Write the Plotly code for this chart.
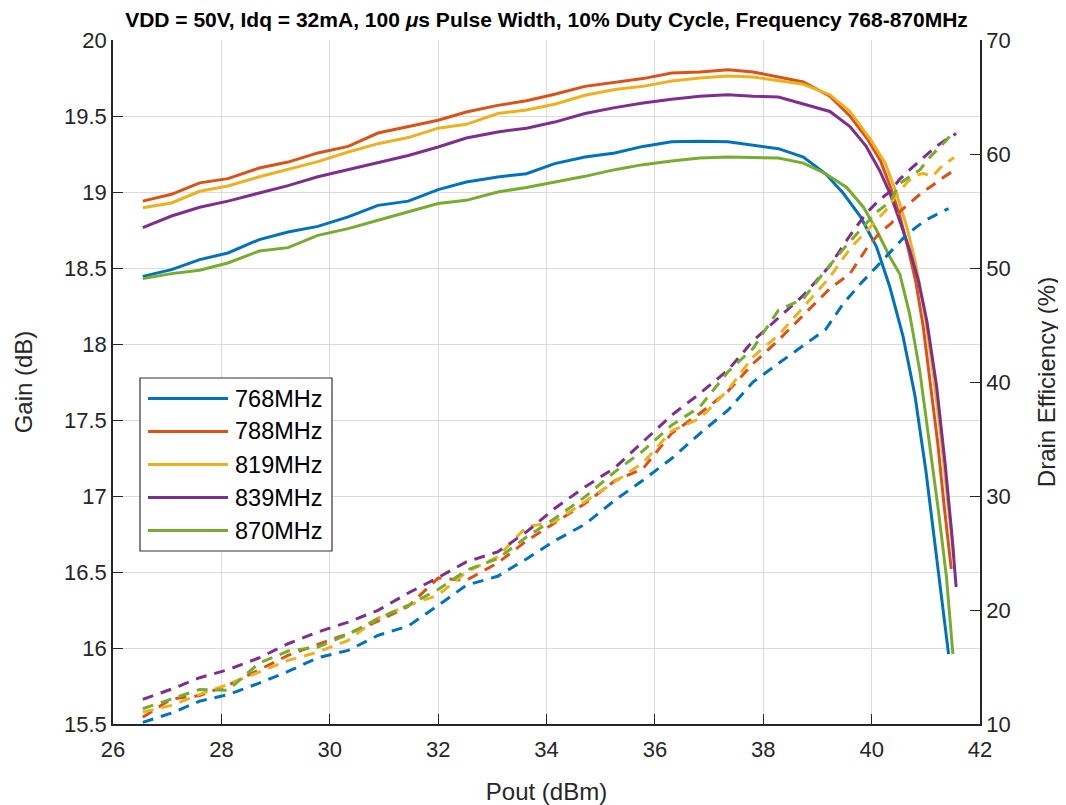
import plotly.graph_objects as go

# ---------------- data ----------------
series_names = ["768MHz", "788MHz", "819MHz", "839MHz", "870MHz"]
series_colors = ["#0072BD", "#D95319", "#EDB120", "#7E2F8E", "#77AC30"]

pout_common = [26.55, 27.08, 27.60, 28.12, 28.70, 29.23, 29.78, 30.34, 30.89, 31.45,
               32.00, 32.52, 33.10, 33.63, 34.15, 34.71, 35.26, 35.78, 36.31, 36.83,
               37.35, 37.81, 38.28, 38.74]

pout_768 = pout_common + [39.15, 39.48, 39.79, 40.09, 40.34, 40.58, 40.80, 41.00, 41.16, 41.29, 41.42]
gain_768 = [18.445, 18.489, 18.555, 18.599, 18.687, 18.737, 18.774, 18.836, 18.912, 18.94,
            19.016, 19.066, 19.099, 19.12, 19.187, 19.23, 19.257, 19.30, 19.33, 19.334,
            19.33, 19.31, 19.285, 19.23,
            19.12, 18.99, 18.84, 18.64, 18.37, 18.05, 17.66, 17.17, 16.72, 16.36, 15.96]
eff_768 = [10.14, 10.96, 12.01, 12.57, 13.59, 14.61, 15.81, 16.46, 17.77, 18.59,
           20.4, 22.17, 22.96, 24.48, 26.06, 27.52, 29.63, 31.38, 33.29, 35.48,
           37.53, 40.0, 41.63, 43.23,
           44.6, 46.9, 48.6, 50.1, 51.4, 52.6, 53.5, 54.2, 54.6, 54.95, 55.2]

pout_788 = pout_common + [39.23, 39.60, 39.92, 40.17, 40.36, 40.53, 40.68, 40.82, 40.95, 41.08, 41.22, 41.34, 41.47]
gain_788 = [18.94, 18.985, 19.06, 19.088, 19.158, 19.197, 19.257, 19.30, 19.388, 19.428,
            19.472, 19.526, 19.57, 19.60, 19.643, 19.695, 19.72, 19.746, 19.783, 19.79,
            19.805, 19.79, 19.757, 19.724,
            19.63, 19.50, 19.35, 19.20, 19.02, 18.83, 18.62, 18.40, 18.12, 17.76, 17.35, 16.93, 16.52]
eff_788 = [10.6, 12.2, 12.5, 13.4, 14.76, 16.02, 16.98, 17.92, 19.03, 20.32,
           22.8, 22.6, 24.13, 26.06, 27.64, 29.34, 31.33, 32.4, 35.5, 37.24,
           39.2, 41.6, 43.67, 45.86,
           48.2, 49.5, 51.8, 53.2, 53.9, 55.0, 55.6, 56.1, 56.7, 57.1, 57.6, 58.0, 58.4]

pout_819 = pout_common + [39.23, 39.60, 39.97, 40.25, 40.46, 40.65, 40.80, 40.96, 41.12, 41.27, 41.40, 41.52]
gain_819 = [18.897, 18.928, 19.005, 19.04, 19.10, 19.147, 19.20, 19.263, 19.318, 19.358,
            19.42, 19.445, 19.516, 19.54, 19.577, 19.636, 19.674, 19.695, 19.73, 19.75,
            19.763, 19.757, 19.735, 19.709,
            19.64, 19.53, 19.35, 19.19, 18.99, 18.77, 18.55, 18.25, 17.85, 17.42, 16.98, 16.6]
eff_819 = [11.04, 11.63, 12.6, 13.47, 14.56, 15.58, 16.31, 17.34, 19.3, 20.41,
           21.3, 23.34, 24.66, 27.29, 27.73, 29.48, 31.24, 32.9, 35.71, 36.8,
           39.3, 42.2, 44.1, 46.6,
           49.2, 51.7, 53.6, 55.0, 56.4, 57.5, 58.1, 58.3, 58.0, 58.8, 59.3, 59.7]

pout_839 = pout_common + [39.23, 39.60, 39.90, 40.15, 40.34, 40.52, 40.70, 40.86, 41.02, 41.20, 41.36, 41.48, 41.56]
gain_839 = [18.766, 18.842, 18.90, 18.94, 18.993, 19.042, 19.10, 19.147, 19.197, 19.24,
            19.296, 19.355, 19.395, 19.42, 19.46, 19.516, 19.555, 19.585, 19.61, 19.63,
            19.64, 19.63, 19.625, 19.58,
            19.53, 19.43, 19.30, 19.14, 18.99, 18.81, 18.62, 18.42, 18.15, 17.72, 17.2, 16.75, 16.40]
eff_839 = [12.16, 13.06, 14.06, 14.76, 15.81, 17.04, 18.07, 18.94, 19.97, 21.49,
           22.85, 24.22, 25.1, 26.85, 28.9, 30.8, 32.47, 34.75, 37.09, 38.99,
           41.05, 43.6, 45.65, 47.6,
           50.2, 52.85, 54.8, 56.0, 56.7, 57.8, 58.6, 59.3, 60.0, 60.7, 61.2, 61.6, 61.8]

pout_870 = pout_common + [39.15, 39.54, 39.85, 40.09, 40.34, 40.52, 40.70, 40.89, 41.07, 41.23, 41.38, 41.50]
gain_870 = [18.43, 18.463, 18.485, 18.533, 18.612, 18.634, 18.715, 18.759, 18.814, 18.868,
            18.924, 18.945, 19.0, 19.03, 19.066, 19.103, 19.147, 19.18, 19.204, 19.224,
            19.23, 19.227, 19.224, 19.19,
            19.12, 19.03, 18.9, 18.75, 18.57, 18.46, 18.2, 17.82, 17.34, 16.91, 16.47, 15.96]
eff_870 = [11.34, 12.2, 13.03, 12.95, 15.35, 16.4, 16.75, 17.86, 19.24, 20.41,
           21.8, 23.49, 24.5, 26.41, 28.02, 29.92, 32.12, 33.96, 36.21, 37.82,
           40.9, 42.94, 46.3, 47.3,
           49.8, 52.0, 53.6, 54.9, 55.8, 57.4, 58.0, 58.6, 59.7, 60.5, 61.2, 61.9]

pout_all = [pout_768, pout_788, pout_819, pout_839, pout_870]
gain_all = [gain_768, gain_788, gain_819, gain_839, gain_870]
eff_all = [eff_768, eff_788, eff_819, eff_839, eff_870]

x_ticks = [26, 28, 30, 32, 34, 36, 38, 40, 42]
gain_ticks = [15.5, 16, 16.5, 17, 17.5, 18, 18.5, 19, 19.5, 20]
eff_ticks = [10, 20, 30, 40, 50, 60, 70]

title_text = ("VDD = 50V, Idq = 32mA, 100 <i>\u03bc</i>s Pulse Width, "
              "10% Duty Cycle, Frequency 768-870MHz")

# ---------------- figure ----------------
# page body has an 8px margin, so the figure is made 8px smaller and
# the margins are shifted to place the axes where the reference has them
OFF = 8
W, H = 1066 - OFF, 805 - OFF
ML, MT = 113 - OFF, 40 - OFF
MR = W - (980 - OFF)
MB = H - (724 - OFF)
PW, PH = W - ML - MR, H - MT - MB
FONT = "Liberation Sans, Arial, Helvetica, sans-serif"
AX = "#262626"

fig = go.Figure()
for name, col, xs, gs in zip(series_names, series_colors, pout_all, gain_all):
    fig.add_trace(go.Scatter(x=xs, y=gs, mode="lines", name=name,
                             line=dict(color=col, width=3), showlegend=False,
                             yaxis="y"))
for name, col, xs, es in zip(series_names, series_colors, pout_all, eff_all):
    fig.add_trace(go.Scatter(x=xs, y=es, mode="lines", name=name + " eff",
                             line=dict(color=col, width=3, dash="11px,8px"),
                             showlegend=False, yaxis="y2"))


def px2paper_x(px):
    return (px - OFF - ML) / PW


def px2paper_y(py):
    return 1 - (py - OFF - MT) / PH


# manual legend (MATLAB-like long line samples)
shapes = [dict(type="rect", xref="paper", yref="paper",
               x0=px2paper_x(140), x1=px2paper_x(332),
               y0=px2paper_y(551), y1=px2paper_y(378),
               line=dict(color="#333333", width=1.2), fillcolor="white", layer="above")]
annotations = []
row_y = [398.5, 431.5, 464.5, 497.5, 530.5]
for name, col, ry in zip(series_names, series_colors, row_y):
    shapes.append(dict(type="line", xref="paper", yref="paper",
                       x0=px2paper_x(148), x1=px2paper_x(228),
                       y0=px2paper_y(ry), y1=px2paper_y(ry),
                       line=dict(color=col, width=3), layer="above"))
    annotations.append(dict(xref="paper", yref="paper", x=px2paper_x(233),
                            y=px2paper_y(ry), xanchor="left", yanchor="middle",
                            text=name, showarrow=False,
                            font=dict(family=FONT, size=23.5, color="#000000")))

fig.update_layout(
    width=W, height=H,
    margin=dict(l=ML, r=MR, t=MT, b=MB, autoexpand=False),
    paper_bgcolor="white", plot_bgcolor="white",
    font=dict(family=FONT, color=AX),
    title=dict(text="<b>" + title_text + "</b>", x=0.5, xref="paper",
               y=1 - (20 - OFF) / H, yref="container", xanchor="center", yanchor="middle",
               font=dict(family=FONT, size=21, color="#000000")),
    xaxis=dict(range=[26, 42], tickvals=x_ticks, ticks="inside", ticklen=10,
               tickwidth=1.2, tickcolor=AX, showline=True, linecolor=AX, linewidth=1.5,
               showgrid=True, gridcolor="#dcdcdc", gridwidth=1, zeroline=False,
               automargin=False, ticklabelstandoff=5,
               tickfont=dict(size=22, color=AX),
               title=dict(text="Pout (dBm)", font=dict(size=24, color=AX), standoff=28)),
    yaxis=dict(range=[15.5, 20], tickvals=gain_ticks, ticks="inside", ticklen=10,
               tickwidth=1.2, tickcolor=AX, showline=True, linecolor=AX, linewidth=1.5,
               showgrid=True, gridcolor="#dcdcdc", gridwidth=1, zeroline=False,
               automargin=False,
               tickfont=dict(size=22, color=AX),
               title=dict(text="Gain (dB)", font=dict(size=24, color=AX), standoff=25)),
    yaxis2=dict(range=[10, 70], tickvals=eff_ticks, overlaying="y", side="right",
                ticks="inside", ticklen=10, tickwidth=1.2, tickcolor=AX,
                showline=True, linecolor=AX, linewidth=1.5, showgrid=False,
                zeroline=False, automargin=False, tickfont=dict(size=22, color=AX),
                title=dict(text="Drain Efficiency (%)", font=dict(size=24, color=AX),
                           standoff=29)),
    shapes=shapes,
    annotations=annotations,
)

fig.write_html("out.html")
